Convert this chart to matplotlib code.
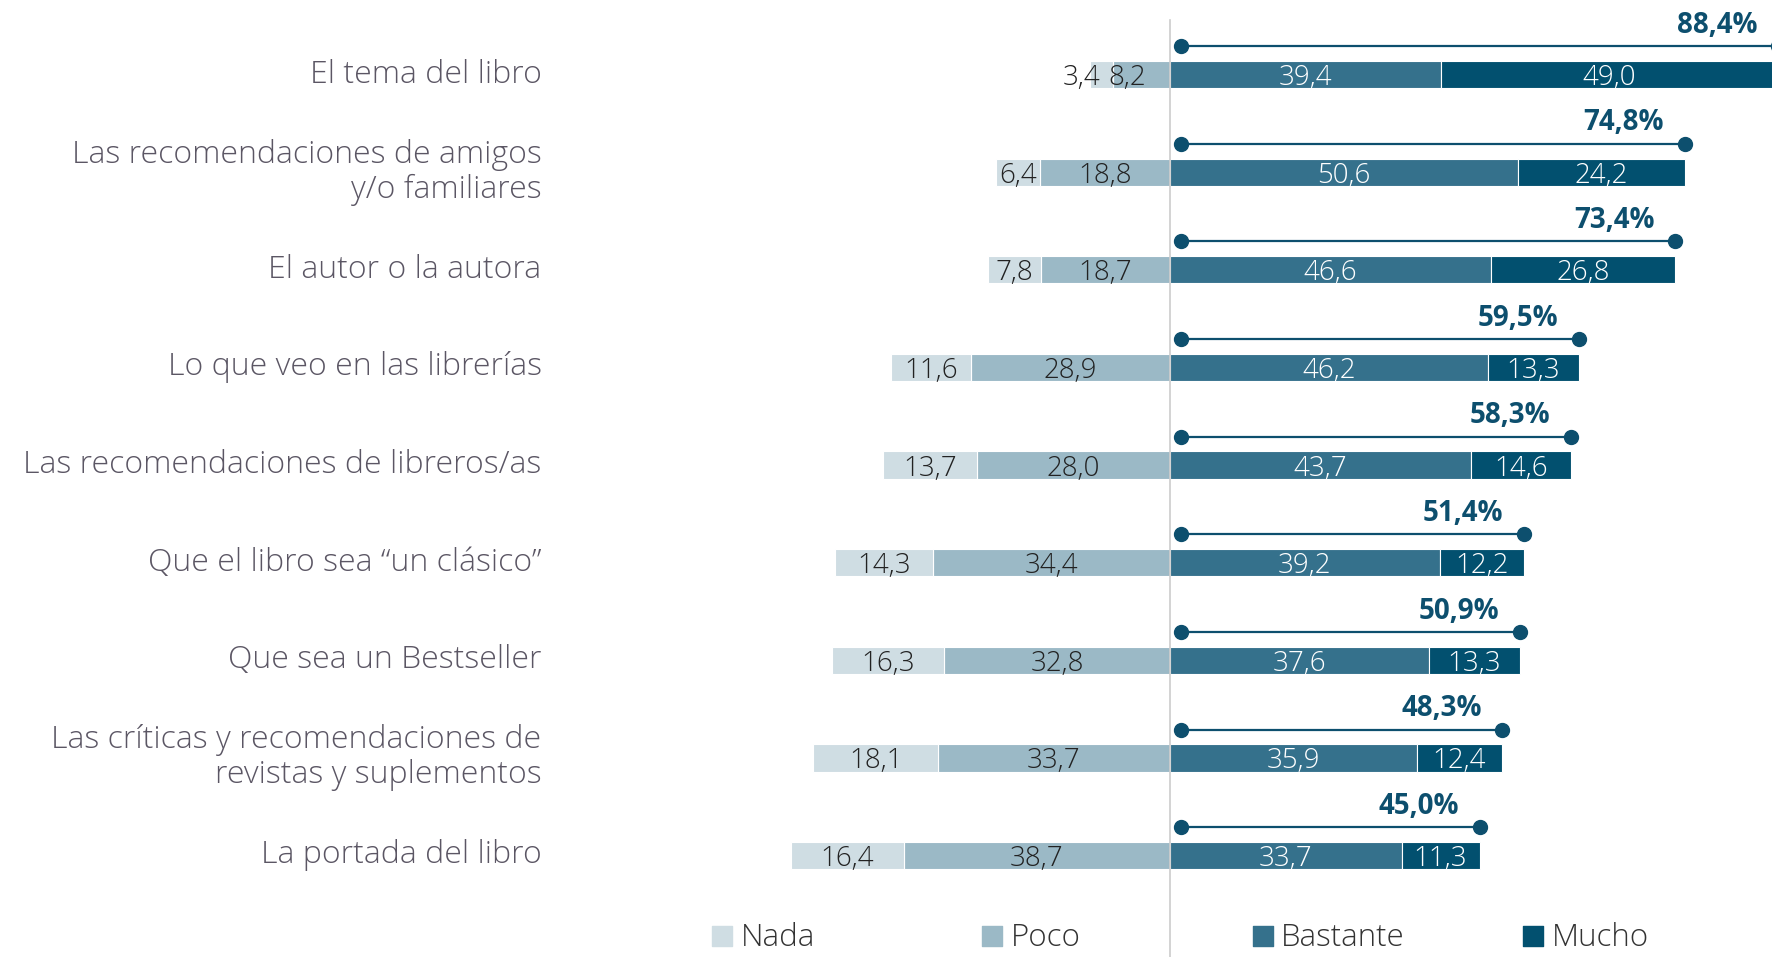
import matplotlib
matplotlib.use("Agg")
import matplotlib.pyplot as plt

categories = ["El tema del libro",
              "Las recomendaciones de amigos\ny/o familiares",
              "El autor o la autora",
              "Lo que veo en las librerías",
              "Las recomendaciones de libreros/as",
              "Que el libro sea “un clásico”",
              "Que sea un Bestseller",
              "Las críticas y recomendaciones de\nrevistas y suplementos",
              "La portada del libro"]
nada = [3.4, 6.4, 7.8, 11.6, 13.7, 14.3, 16.3, 18.1, 16.4]
poco = [8.2, 18.8, 18.7, 28.9, 28.0, 34.4, 32.8, 33.7, 38.7]
bastante = [39.4, 50.6, 46.6, 46.2, 43.7, 39.2, 37.6, 35.9, 33.7]
mucho = [49.0, 24.2, 26.8, 13.3, 14.6, 12.2, 13.3, 12.4, 11.3]
total = [88.4, 74.8, 73.4, 59.5, 58.3, 51.4, 50.9, 48.3, 45.0]
legend_labels = ["Nada", "Poco", "Bastante", "Mucho"]

c_nada, c_poco, c_bast, c_mucho = "#cfdde3", "#9bb9c6", "#35718c", "#02506f"
c_dark = "#0d4f6e"
FONT = "Open Sans"

def fmt(v):
    return f"{v:.1f}".replace(".", ",")

fig = plt.figure(figsize=(17.72, 9.57), dpi=100)
ax = fig.add_axes([0, 0, 1, 1])
ax.set_xlim(-170, 87.5)
ax.set_ylim(9.04, -0.764)
ax.axis("off")

y = list(range(len(categories)))
h = 0.28
ekw = dict(edgecolor="white", linewidth=0.8)
ax.barh(y, [-v for v in poco], height=h, color=c_poco, **ekw)
ax.barh(y, [-v for v in nada], left=[-v for v in poco], height=h, color=c_nada, **ekw)
ax.barh(y, bastante, height=h, color=c_bast, **ekw)
ax.barh(y, mucho, left=bastante, height=h, color=c_mucho, **ekw)

ax.plot([0, 0], [-0.56, 9.2], color="#cccccc", lw=1.2, zorder=5)

vs = 20
tkw = dict(va="center_baseline", fontsize=vs, family=FONT, fontweight="light")
for i in y:
    n, p, b, m = nada[i], poco[i], bastante[i], mucho[i]
    if n < 5:
        ax.text(-(p + n / 2) - 0.2, i, fmt(n), ha="right", color="#222222", **tkw)
        ax.text(-p - 0.8, i, fmt(p), ha="left", color="#222222", **tkw)
    else:
        ax.text(-(p + n / 2), i, fmt(n), ha="center", color="#222222", **tkw)
        ax.text(-p / 2, i, fmt(p), ha="center", color="#222222", **tkw)
    ax.text(b / 2, i, fmt(b), ha="center", color="white", **tkw)
    ax.text(b + m / 2, i, fmt(m), ha="center", color="white", **tkw)
    # total line
    ax.plot([1.6, total[i]], [i - 0.29, i - 0.29], color=c_dark, lw=1.6,
            marker="o", markersize=10, zorder=6)
    ax.text(total[i] - 3.0, i - 0.54, fmt(total[i]) + "%", ha="right",
            va="center_baseline", fontsize=20, fontweight="bold",
            color=c_dark, family=FONT)
    ax.text(-91.3, i, categories[i], ha="right", va="center", fontsize=23,
            color="#5b5664", family=FONT, fontweight="light",
            linespacing=1.12)

leg_colors = [c_nada, c_poco, c_bast, c_mucho]
for k, (lab, col) in enumerate(zip(legend_labels, leg_colors)):
    xc = -65.1 + 39.3 * k
    ax.scatter([xc], [8.82], marker="s", s=210, color=col, zorder=6)
    ax.text(xc + 2.7, 8.93, lab, ha="left", va="baseline", fontsize=22.5,
            color="#333333", family=FONT, fontweight="light")

fig.savefig("out.png", dpi=100)
